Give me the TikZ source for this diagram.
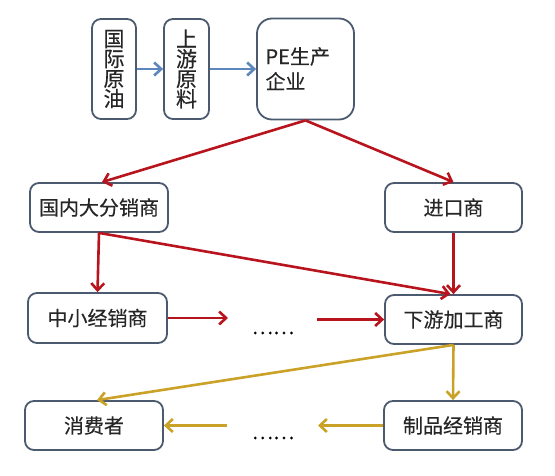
\documentclass[tikz,border=0pt]{standalone}
\usepackage{fontspec}
\setmainfont{Noto Sans CJK SC}[FakeBold=0.3]
\usetikzlibrary{arrows.meta}
\definecolor{boxline}{HTML}{4B5A6E}
\definecolor{bluearr}{HTML}{5B87BD}
\definecolor{redarr}{HTML}{B8141E}
\definecolor{yelarr}{HTML}{C9A227}
\tikzset{
  box/.style={draw=boxline, line width=1.8pt, rounded corners=9pt, fill=white, inner sep=0pt, font=\fontsize{20}{22}\selectfont, align=center, text=black!85},
  tip/.style={-{Straight Barb[length=7pt,width=13pt]}},
  arrb/.style={draw=bluearr, line width=2.6pt, tip},
  arrr/.style={draw=redarr, line width=2.6pt, tip},
  arry/.style={draw=yelarr, line width=2.6pt, tip},
  dots/.style={font=\fontsize{20}{22}\selectfont, inner sep=0pt}
}
\begin{document}
\begin{tikzpicture}[x=1pt,y=-1pt]
\useasboundingbox (0,0) rectangle (555,476);
\node[box, minimum width=44pt, minimum height=100pt, font=\fontsize{21}{22}\selectfont] (gy) at (114,69) {国\\[-2pt]际\\[-2pt]原\\[-2pt]油};
\node[box, minimum width=45pt, minimum height=100pt, font=\fontsize{21}{22}\selectfont] (sy) at (186.5,69) {上\\[-2pt]游\\[-2pt]原\\[-2pt]料};
\node[box, rounded corners=15pt, minimum width=97pt, minimum height=101pt, align=left, font=\fontsize{20}{25}\selectfont] (pe) at (305.5,69) {PE生产\\企业\phantom{生产}};
\node[box, minimum width=138pt, minimum height=49pt] (gn) at (99,207.5) {国内大分销商};
\node[box, minimum width=137pt, minimum height=49pt] (jk) at (453.5,207.5) {进口商};
\node[box, minimum width=139pt, minimum height=50pt] (zx) at (97.5,318) {中小经销商};
\node[box, minimum width=137pt, minimum height=49pt] (xy) at (453.5,319.5) {下游加工商};
\node[box, minimum width=138pt, minimum height=49pt] (xf) at (94,425.5) {消费者};
\node[box, minimum width=138pt, minimum height=49pt] (zp) at (453,425.5) {制品经销商};
\node[dots] (d1) at (273,333) {……};
\node[dots] (d2) at (273,438) {……};
\coordinate (r1) at (228,318);
\coordinate (r2) at (317,319.5);
\coordinate (y1) at (318,425.5);
\coordinate (y2) at (227,425.5);
\draw[arrb] (gy.east) -- (sy.west);
\draw[arrb] (sy.east) -- (pe.west);
\draw[arrr] (pe.south) -- ([xshift=3pt]gn.north);
\draw[arrr] (pe.south) -- (jk.north);
\draw[arrr] (gn.south) -- (zx.north);
\draw[arrr] (gn.south) -- ([xshift=-3pt]xy.north);
\draw[arrr] (jk.south) -- (xy.north);
\draw[arrr] (zx.east) -- (r1);
\draw[arrr] (r2) -- (xy.west);
\draw[arry] (xy.south) -- ([xshift=3pt]xf.north);
\draw[arry] (xy.south) -- (zp.north);
\draw[arry] (zp.west) -- (y1);
\draw[arry] (y2) -- (xf.east);
\end{tikzpicture}
\end{document}
